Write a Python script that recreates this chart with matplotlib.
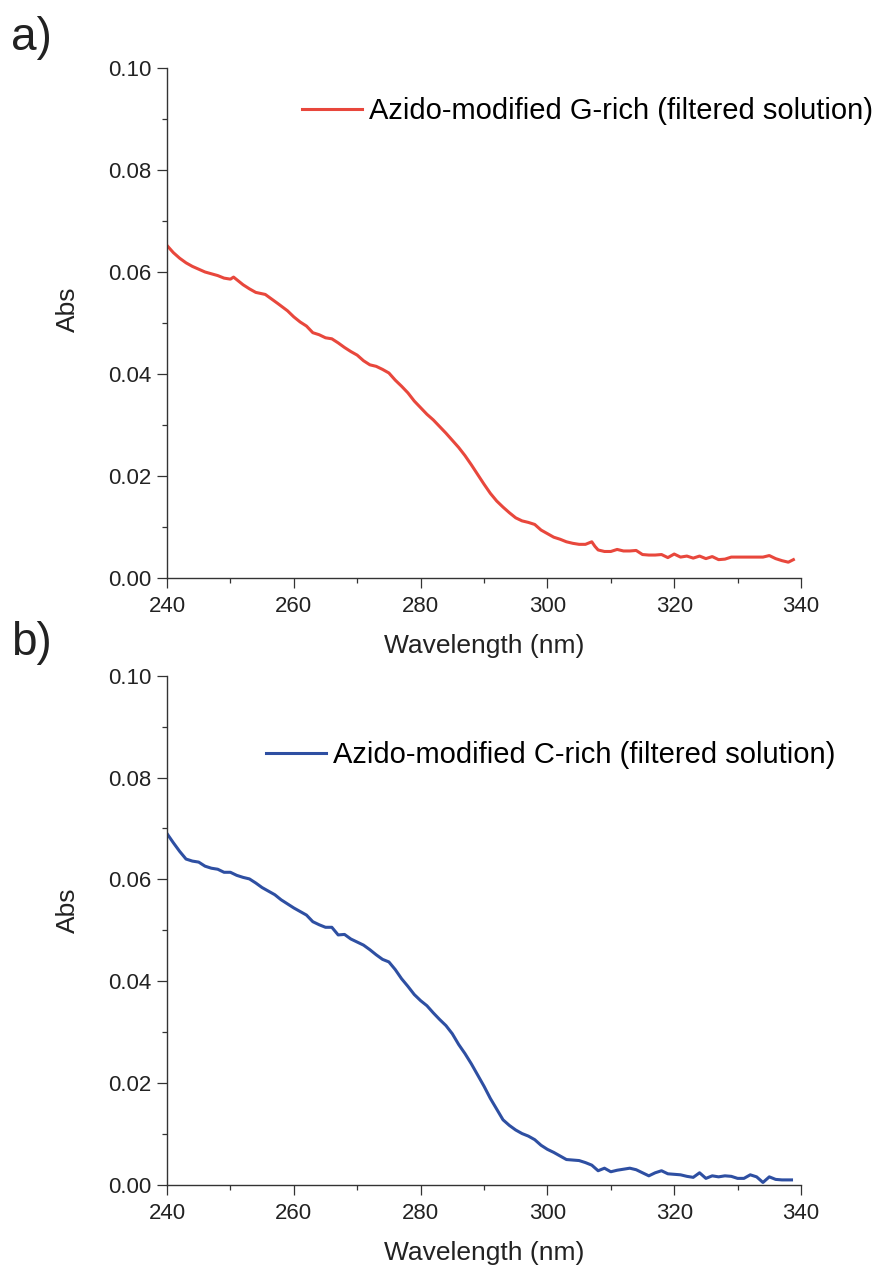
import matplotlib
matplotlib.use("Agg")
import matplotlib.pyplot as plt
from matplotlib.ticker import MultipleLocator, FormatStrFormatter

plt.rcParams['font.family'] = ['Liberation Sans', 'DejaVu Sans']

# UV-Vis absorbance spectra (wavelength in nm, absorbance)
wl_g = [240, 241, 242, 243, 244, 246, 248, 249, 250, 250.5, 251, 252, 253, 254,
        255.5, 256.5, 257.5, 259, 260, 261, 262, 263, 264, 265, 266, 267, 268,
        269, 270, 271, 272, 273, 274, 275, 276, 277, 278, 279, 280, 281, 282,
        283, 284, 285, 286, 287, 288, 289, 290, 291, 292, 293, 294, 295, 296,
        297, 298, 299, 300, 301, 302, 303, 304, 305, 306, 307, 307.5, 308, 309,
        310, 311, 312, 313, 314, 315, 316, 317, 318, 319, 320, 321, 322, 323,
        324, 325, 326, 327, 328, 329, 330, 331, 332, 333, 334, 335, 336, 337,
        338, 338.8]
abs_g = [0.0652, 0.0638, 0.0627, 0.0618, 0.0611, 0.0600, 0.0593, 0.0588, 0.0586,
         0.0590, 0.0585, 0.0575, 0.0567, 0.0560, 0.0556, 0.0547, 0.0538, 0.0524,
         0.0512, 0.0502, 0.0494, 0.0481, 0.0477, 0.0471, 0.0469, 0.0461, 0.0452,
         0.0444, 0.0437, 0.0426, 0.0418, 0.0415, 0.0409, 0.0402, 0.0388, 0.0376,
         0.0363, 0.0347, 0.0334, 0.0321, 0.0310, 0.0297, 0.0284, 0.0270, 0.0256,
         0.0240, 0.0222, 0.0203, 0.0184, 0.0166, 0.0151, 0.0139, 0.0128, 0.0118,
         0.0112, 0.0109, 0.0105, 0.0094, 0.0087, 0.0080, 0.0076, 0.0071, 0.0068,
         0.0066, 0.0066, 0.0071, 0.0062, 0.0055, 0.0052, 0.0052, 0.0056, 0.0053,
         0.0053, 0.0054, 0.0046, 0.0045, 0.0045, 0.0046, 0.0040, 0.0047, 0.0041,
         0.0043, 0.0039, 0.0043, 0.0038, 0.0042, 0.0036, 0.0037, 0.0041, 0.0041,
         0.0041, 0.0041, 0.0041, 0.0041, 0.0044, 0.0038, 0.0034, 0.0031, 0.0036]

wl_c = [240, 241, 242, 243, 244, 245, 246, 247, 248, 249, 250, 251, 252, 253,
        254, 255, 256, 257, 258, 259, 260, 261, 262, 263, 264, 265, 266, 267,
        268, 269, 270, 271, 272, 273, 274, 275, 276, 277, 278, 279, 280, 281,
        282, 283, 284, 285, 286, 287, 288, 289, 290, 291, 292, 293, 294, 295,
        296, 297, 298, 299, 300, 301, 302, 303, 304, 305, 306, 307, 308, 309,
        310, 311, 312, 313, 314, 315, 316, 317, 318, 319, 320, 321, 322, 323,
        324, 325, 326, 327, 328, 329, 330, 331, 332, 333, 334, 335, 336, 337,
        338.5]
abs_c = [0.0690, 0.0672, 0.0655, 0.0640, 0.0636, 0.0634, 0.0626, 0.0622, 0.0620,
         0.0614, 0.0614, 0.0608, 0.0604, 0.0601, 0.0593, 0.0584, 0.0577, 0.0570,
         0.0560, 0.0552, 0.0544, 0.0537, 0.0530, 0.0517, 0.0511, 0.0506, 0.0506,
         0.0491, 0.0492, 0.0483, 0.0477, 0.0471, 0.0462, 0.0452, 0.0443, 0.0438,
         0.0423, 0.0405, 0.0390, 0.0374, 0.0362, 0.0352, 0.0338, 0.0325, 0.0313,
         0.0297, 0.0276, 0.0258, 0.0238, 0.0216, 0.0194, 0.0170, 0.0149, 0.0128,
         0.0117, 0.0108, 0.0101, 0.0096, 0.0089, 0.0078, 0.0070, 0.0064, 0.0057,
         0.0050, 0.0049, 0.0048, 0.0044, 0.0039, 0.0028, 0.0033, 0.0026, 0.0029,
         0.0031, 0.0033, 0.0030, 0.0024, 0.0018, 0.0024, 0.0028, 0.0022, 0.0021,
         0.0020, 0.0017, 0.0015, 0.0024, 0.0013, 0.0018, 0.0016, 0.0018, 0.0017,
         0.0013, 0.0013, 0.0020, 0.0016, 0.0005, 0.0016, 0.0011, 0.0010, 0.0010]

label_g = "Azido-modified G-rich (filtered solution)"
label_c = "Azido-modified C-rich (filtered solution)"

fig = plt.figure(figsize=(8.82, 12.66), dpi=100)

W, H = 882, 1266


def make_axes(top_px, bottom_px):
    left, right = 167, 801
    return fig.add_axes([left / W, 1 - bottom_px / H,
                         (right - left) / W, (bottom_px - top_px) / H])


ax_a = make_axes(68, 578)
ax_b = make_axes(675.7, 1185)

panels = [
    (ax_a, wl_g, abs_g, "#e8473c", label_g, (0.2125, 0.9157), 0.527),
    (ax_b, wl_c, abs_c, "#2e4fa2", label_c, (0.156, 0.844), 0.540),
]

text_col = "#222222"
spine_col = "#333333"
for ax, x, y, col, lab, anchor, ylab_y in panels:
    ax.plot(x, y, color=col, lw=2.2, label=lab, solid_joinstyle="round")
    ax.set_xlim(240, 340)
    ax.set_ylim(0, 0.10)
    for s in ("top", "right"):
        ax.spines[s].set_visible(False)
    for s in ("left", "bottom"):
        ax.spines[s].set_color(spine_col)
        ax.spines[s].set_linewidth(1.0)
    ax.xaxis.set_major_locator(MultipleLocator(20))
    ax.xaxis.set_minor_locator(MultipleLocator(10))
    ax.yaxis.set_major_locator(MultipleLocator(0.02))
    ax.yaxis.set_minor_locator(MultipleLocator(0.01))
    ax.yaxis.set_major_formatter(FormatStrFormatter("%.2f"))
    ax.tick_params(which="major", direction="out", length=7, width=0.9,
                   color=spine_col, labelsize=16, labelcolor=text_col, pad=4)
    ax.tick_params(axis="x", which="major", pad=6)
    ax.tick_params(which="minor", direction="out", length=3.5, width=0.9,
                   color=spine_col)
    ax.set_xlabel("Wavelength (nm)", fontsize=19, color=text_col, labelpad=12)
    ax.set_ylabel("Abs", fontsize=19, color=text_col)
    ax.yaxis.set_label_coords(-0.137, ylab_y)
    ax.legend(loc="center left", bbox_to_anchor=anchor, frameon=False,
              fontsize=21, handlelength=2.07, handletextpad=0.22,
              borderpad=0, borderaxespad=0)
    ax.set_facecolor("none")

fig.text(11 / W, 1 - 38 / H, "a)", fontsize=33, va="center", ha="left",
         color=text_col)
fig.text(11 / W, 1 - 643 / H, "b)", fontsize=33, va="center", ha="left",
         color=text_col)

fig.savefig("out.png", dpi=100, facecolor="white")
